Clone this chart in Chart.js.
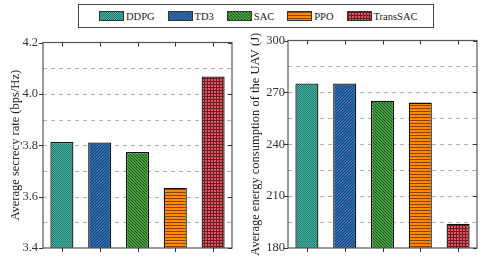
<!DOCTYPE html>
<html>
<head>
<meta charset="utf-8">
<script src="https://cdn.jsdelivr.net/npm/chart.js@4"></script>
<style>
  body { margin: 0; background: #fff; width: 485px; height: 261px; overflow: hidden; position: relative; font-family: "Liberation Serif", serif; }
  #legend { position: absolute; left: 78px; top: 4px; width: 334px; height: 22px; border: 1px solid #444;
    display: flex; align-items: center; padding-left: 20px; box-sizing: content-box; font-size: 10.5px; color: #222; }
  #legend .item { display: flex; align-items: center; margin-right: 13px; }
  #legend canvas { width: 23px; height: 8px; margin-right: 2px; border: 0.5px solid #333; }
  .box { position: absolute; top: 30px; height: 231px; }
</style>
</head>
<body>
<div id="legend"></div>
<div class="box" style="left:0;width:240px"><canvas id="rate"></canvas></div>
<div class="box" style="left:240px;width:245px"><canvas id="energy"></canvas></div>
<script>
const methods = ["DDPG", "TD3", "SAC", "PPO", "TransSAC"];
const secrecyRate = [3.813, 3.811, 3.774, 3.635, 4.068];
const energyUse = [275.2, 275.2, 265.2, 264.1, 194.0];
const rateTicks = [3.4, 3.6, 3.8, 4.0, 4.2];
const energyTicks = [180, 210, 240, 270, 300];

// fill colours + pattern kind for each method
const baseColors = ["#3fb3a2", "#2f6fb4", "#46a03f", "#ff8a00", "#dc5560"];
const lineColors = ["#1c5d53", "#173c6a", "#1c541a", "#8a4200", "#6e1a22"];
const kinds = ["dots", "slash", "backslash", "hline", "grid"];

function makePattern(i) {
  const c = document.createElement("canvas");
  c.width = 3; c.height = 3;
  const g = c.getContext("2d");
  g.fillStyle = baseColors[i];
  g.fillRect(0, 0, 3, 3);
  g.fillStyle = lineColors[i];
  const k = kinds[i];
  if (k === "dots") {
    c.width = 2; c.height = 2;
    g.fillStyle = baseColors[i]; g.fillRect(0, 0, 2, 2);
    g.fillStyle = lineColors[i];
    g.fillRect(0, 0, 1, 1); g.fillRect(1, 1, 1, 1);
    g.fillStyle = baseColors[i]; g.globalAlpha = 0.35; g.fillRect(0, 0, 2, 2);
  } else if (k === "slash") {
    g.fillRect(2, 0, 1, 1); g.fillRect(1, 1, 1, 1); g.fillRect(0, 2, 1, 1);
  } else if (k === "backslash") {
    g.fillRect(0, 0, 1, 1); g.fillRect(1, 1, 1, 1); g.fillRect(2, 2, 1, 1);
  } else if (k === "hline") {
    g.fillRect(0, 0, 3, 1);
  } else if (k === "grid") {
    g.fillRect(0, 0, 3, 1); g.fillRect(0, 0, 1, 3);
  }
  return document.createElement("canvas").getContext("2d").createPattern(c, "repeat");
}
const patterns = methods.map((m, i) => makePattern(i));

// legend
const legend = document.getElementById("legend");
methods.forEach((m, i) => {
  const item = document.createElement("div");
  item.className = "item";
  const sw = document.createElement("canvas");
  sw.width = 23; sw.height = 8;
  const g = sw.getContext("2d");
  g.fillStyle = patterns[i];
  g.fillRect(0, 0, 23, 8);
  item.appendChild(sw);
  const t = document.createElement("span");
  t.textContent = m;
  item.appendChild(t);
  legend.appendChild(item);
});

// dashed grid at every half step, drawn under the bars
const dashGrid = {
  id: "dashGrid",
  beforeDatasetsDraw(chart) {
    const { ctx, chartArea: a, scales } = chart;
    const t = chart.options.majorTicks;
    const half = (t[1] - t[0]) / 2;
    ctx.save();
    ctx.strokeStyle = "#b0b0b0";
    ctx.lineWidth = 1;
    ctx.setLineDash([4, 4]);
    ctx.beginPath();
    for (let k = 1; k < (t.length - 1) * 2; k++) {
      const y = Math.round(scales.y.getPixelForValue(t[0] + k * half)) + 0.5;
      ctx.moveTo(a.left, y); ctx.lineTo(a.right, y);
    }
    ctx.stroke();
    ctx.restore();
  }
};

const frame = {
  id: "frame",
  afterDraw(chart) {
    const { ctx, chartArea: a, scales } = chart;
    ctx.save();
    ctx.strokeStyle = "#555";
    ctx.lineWidth = 1.2;
    ctx.strokeRect(a.left, a.top, a.right - a.left, a.bottom - a.top);
    ctx.strokeStyle = "#333";
    ctx.lineWidth = 1;
    ctx.beginPath();
    methods.forEach((m, i) => {
      const x = Math.round(scales.x.getPixelForValue(i)) + 0.5;
      ctx.moveTo(x, a.top); ctx.lineTo(x, a.top + 4);
      ctx.moveTo(x, a.bottom); ctx.lineTo(x, a.bottom + 4);
    });
    chart.options.majorTicks.forEach(v => {
      const y = Math.round(scales.y.getPixelForValue(v)) + 0.5;
      ctx.moveTo(a.left - 4, y); ctx.lineTo(a.left, y);
      ctx.moveTo(a.right - 4, y); ctx.lineTo(a.right, y);
    });
    ctx.stroke();
    ctx.restore();
  }
};

function makeChart(id, values, ticks, title, axisW, titleSize, labelPad, digits) {
  return new Chart(document.getElementById(id), {
    type: "bar",
    data: {
      labels: methods,
      datasets: [{
        data: values,
        backgroundColor: patterns,
        borderColor: "#111",
        borderWidth: 1.3,
        barPercentage: 0.61,
        categoryPercentage: 1.0
      }]
    },
    options: {
      responsive: true,
      maintainAspectRatio: false,
      animation: false,
      majorTicks: ticks,
      layout: { padding: { top: 9, right: 8, bottom: 13, left: 0 } },
      plugins: { legend: { display: false }, tooltip: { enabled: false } },
      scales: {
        x: {
          ticks: { display: false },
          grid: { display: false, drawTicks: false },
          border: { display: false },
          afterFit: s => { s.height = 0; }
        },
        y: {
          min: ticks[0], max: ticks[ticks.length - 1],
          afterFit: s => { s.width = axisW; },
          afterBuildTicks: s => { s.ticks = ticks.map(v => ({ value: v })); },
          ticks: {
            padding: labelPad,
            color: "#333",
            font: { family: "Liberation Serif", size: 12.5 },
            callback: (v, i) => ticks[i].toFixed(digits)
          },
          grid: { display: false, drawTicks: false },
          border: { display: false },
          title: {
            display: true,
            text: title,
            color: "#222",
            font: { family: "Liberation Serif", size: titleSize },
            padding: { top: 8, bottom: 0 }
          }
        }
      }
    },
    plugins: [dashGrid, frame]
  });
}

makeChart("rate", secrecyRate, rateTicks, "Average secrecy rate (bps/Hz)", 43, 12.5, 5, 1);
makeChart("energy", energyUse, energyTicks, "Average energy consumption of the UAV (J)", 48, 12.5, 3, 0);
</script>
</body>
</html>
